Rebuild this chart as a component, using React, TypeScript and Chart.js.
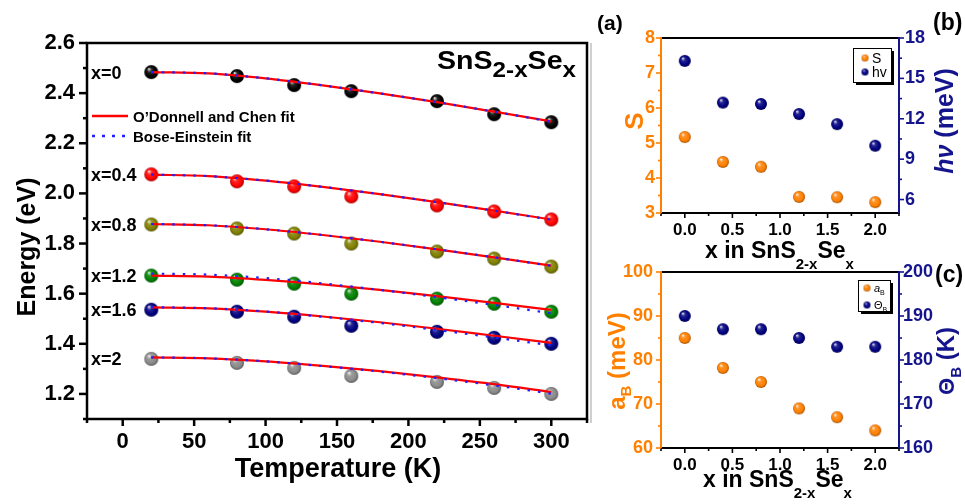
import React, { useEffect, useRef } from 'react';
import { Chart, registerables } from 'chart.js';
Chart.register(...registerables);

const FONT = '"Liberation Sans", Arial, Helvetica, sans-serif';

// ---------- Main panel: band-gap energy vs temperature ----------
const temperatures = [20, 80, 120, 160, 220, 260, 300];
const compositionLabels = ['x=0', 'x=0.4', 'x=0.8', 'x=1.2', 'x=1.6', 'x=2'];
const energyX0 = [2.484, 2.468, 2.432, 2.408, 2.368, 2.316, 2.284];
const energyX04 = [2.076, 2.048, 2.028, 1.988, 1.952, 1.928, 1.896];
const energyX08 = [1.876, 1.86, 1.84, 1.8, 1.768, 1.74, 1.708];
const energyX12 = [1.672, 1.656, 1.64, 1.6, 1.58, 1.56, 1.528];
const energyX16 = [1.536, 1.528, 1.508, 1.472, 1.448, 1.424, 1.4];
const energyX2 = [1.34, 1.324, 1.304, 1.272, 1.248, 1.224, 1.2];

const fitTemperatures = [20, 60, 100, 140, 180, 220, 260, 300];
const odcFitX0 = [2.484, 2.479, 2.459, 2.431, 2.399, 2.364, 2.326, 2.287];
const beFitX0 = [2.484, 2.479, 2.459, 2.431, 2.399, 2.364, 2.326, 2.286];
const odcFitX04 = [2.075, 2.069, 2.051, 2.026, 1.997, 1.965, 1.931, 1.896];
const beFitX04 = [2.075, 2.069, 2.051, 2.026, 1.997, 1.965, 1.931, 1.895];
const odcFitX08 = [1.878, 1.873, 1.857, 1.834, 1.807, 1.777, 1.745, 1.712];
const beFitX08 = [1.878, 1.873, 1.857, 1.834, 1.807, 1.777, 1.745, 1.711];
const odcFitX12 = [1.672, 1.668, 1.655, 1.637, 1.615, 1.59, 1.563, 1.535];
const beFitX12 = [1.68, 1.676, 1.662, 1.641, 1.615, 1.586, 1.555, 1.522];
const odcFitX16 = [1.545, 1.541, 1.528, 1.509, 1.486, 1.46, 1.432, 1.404];
const beFitX16 = [1.546, 1.542, 1.529, 1.508, 1.483, 1.455, 1.425, 1.394];
const odcFitX2 = [1.346, 1.342, 1.33, 1.312, 1.291, 1.266, 1.239, 1.207];
const beFitX2 = [1.346, 1.342, 1.33, 1.311, 1.289, 1.263, 1.234, 1.201];

const temperatureTicks = [0, 50, 100, 150, 200, 250, 300];
const energyTicks = [1.2, 1.4, 1.6, 1.8, 2.0, 2.2, 2.4, 2.6];

// ---------- Panels (b) and (c): parameters vs composition ----------
const compositions = [0, 0.4, 0.8, 1.2, 1.6, 2.0];
const sValues = [5.17, 4.46, 4.32, 3.46, 3.45, 3.31];
const hvValues = [16.3, 13.2, 13.1, 12.35, 11.6, 10.0];
const aBValues = [85, 78.2, 75, 69, 67, 64];
const thetaBValues = [190, 187, 187, 185, 183, 183];

const compositionTicks = [0, 0.5, 1.0, 1.5, 2.0];
const sTicks = [3, 4, 5, 6, 7, 8];
const hvTicks = [6, 9, 12, 15, 18];
const aBTicks = [60, 70, 80, 90, 100];
const thetaBTicks = [160, 170, 180, 190, 200];

const seriesColors = ['#000000', '#ff0000', '#808000', '#008000', '#000080', '#8a8a8a'];
const ORANGE = '#ff8000';
const NAVY = '#14148c';

function hexToRgb(h: string) {
  const n = parseInt(h.slice(1), 16);
  return [(n >> 16) & 255, (n >> 8) & 255, n & 255];
}
function mix(h: string, target: number[], t: number) {
  const c = hexToRgb(h);
  return `rgb(${c.map((v, i) => Math.round(v + (target[i] - v) * t)).join(',')})`;
}
function makeSphere(color: string, d: number) {
  const s = Math.ceil(d) + 2;
  const cv = document.createElement('canvas');
  cv.width = s;
  cv.height = s;
  const ctx = cv.getContext('2d')!;
  const r = d / 2;
  const c = s / 2;
  const g = ctx.createRadialGradient(c - r * 0.35, c - r * 0.45, r * 0.05, c, c, r);
  g.addColorStop(0, mix(color, [255, 255, 255], 0.85));
  g.addColorStop(0.3, mix(color, [255, 255, 255], 0.15));
  g.addColorStop(0.75, color);
  g.addColorStop(1, mix(color, [0, 0, 0], 0.35));
  ctx.fillStyle = g;
  ctx.beginPath();
  ctx.arc(c, c, r, 0, Math.PI * 2);
  ctx.fill();
  return cv;
}

type Seg = { t: string; size: number; dy?: number; style?: string; weight?: string };
function richText(
  ctx: CanvasRenderingContext2D,
  segs: Seg[],
  x: number,
  y: number,
  color: string,
  align: 'left' | 'center',
  rotate = false,
  hScale = 1
) {
  ctx.save();
  ctx.translate(x, y);
  if (rotate) ctx.rotate(-Math.PI / 2);
  ctx.scale(hScale, 1);
  ctx.fillStyle = color;
  ctx.textBaseline = 'alphabetic';
  ctx.textAlign = 'left';
  const font = (s: Seg) => `${s.style ?? 'normal'} ${s.weight ?? 'bold'} ${s.size}px ${FONT}`;
  let total = 0;
  for (const s of segs) {
    ctx.font = font(s);
    total += ctx.measureText(s.t).width;
  }
  let cx = align === 'center' ? -total / 2 : 0;
  for (const s of segs) {
    ctx.font = font(s);
    ctx.fillText(s.t, cx, s.dy ?? 0);
    cx += ctx.measureText(s.t).width;
  }
  ctx.restore();
}

function drawAxisTicks(
  ctx: CanvasRenderingContext2D,
  scale: any,
  majors: number[],
  pos: 'bottom' | 'left' | 'right',
  color: string,
  majorLen: number,
  minorLen: number,
  lw: number
) {
  const step = majors[1] - majors[0];
  const minors: number[] = [];
  const eps = step * 1e-3;
  const before = majors[0] - step / 2;
  if (before >= scale.min - eps) minors.push(before);
  for (let i = 0; i < majors.length - 1; i++) minors.push((majors[i] + majors[i + 1]) / 2);
  const after = majors[majors.length - 1] + step / 2;
  if (after <= scale.max + eps) minors.push(after);
  ctx.save();
  ctx.strokeStyle = color;
  ctx.lineWidth = lw;
  const draw = (v: number, len: number) => {
    const p = scale.getPixelForValue(v);
    ctx.beginPath();
    if (pos === 'bottom') {
      ctx.moveTo(p, scale.top);
      ctx.lineTo(p, scale.top + len);
    } else if (pos === 'left') {
      ctx.moveTo(scale.right, p);
      ctx.lineTo(scale.right - len, p);
    } else {
      ctx.moveTo(scale.left, p);
      ctx.lineTo(scale.left + len, p);
    }
    ctx.stroke();
  };
  majors.forEach((v) => draw(v, majorLen));
  minors.forEach((v) => draw(v, minorLen));
  ctx.restore();
}

function line(ctx: CanvasRenderingContext2D, x1: number, y1: number, x2: number, y2: number, color: string, lw: number, dash: number[] = []) {
  ctx.save();
  ctx.strokeStyle = color;
  ctx.lineWidth = lw;
  ctx.setLineDash(dash);
  ctx.beginPath();
  ctx.moveTo(x1, y1);
  ctx.lineTo(x2, y2);
  ctx.stroke();
  ctx.restore();
}

const setTicks = (values: number[]) => (scale: any) => {
  scale.ticks = values.map((v) => ({ value: v }));
};

function tickFont(size: number) {
  return { family: FONT, size, weight: 'bold' as const };
}
const noGrid = { display: false, drawTicks: false };

function mainConfig(): any {
  const energySeries = [energyX0, energyX04, energyX08, energyX12, energyX16, energyX2];
  const odcFits = [odcFitX0, odcFitX04, odcFitX08, odcFitX12, odcFitX16, odcFitX2];
  const beFits = [beFitX0, beFitX04, beFitX08, beFitX12, beFitX16, beFitX2];
  const datasets: any[] = [];
  energySeries.forEach((vals, i) => {
    datasets.push({
      label: `Bose-Einstein fit ${compositionLabels[i]}`,
      data: fitTemperatures.map((t, j) => ({ x: t, y: beFits[i][j] })),
      showLine: true,
      borderColor: '#1f1fff',
      borderWidth: 2.2,
      borderDash: [2.5, 8],
      pointRadius: 0,
      cubicInterpolationMode: 'monotone',
      order: 0,
    });
    datasets.push({
      label: `O'Donnell and Chen fit ${compositionLabels[i]}`,
      data: fitTemperatures.map((t, j) => ({ x: t, y: odcFits[i][j] })),
      showLine: true,
      borderColor: '#ff0000',
      borderWidth: 2.2,
      pointRadius: 0,
      cubicInterpolationMode: 'monotone',
      order: 1,
    });
    datasets.push({
      label: compositionLabels[i],
      data: temperatures.map((t, j) => ({ x: t, y: vals[j] })),
      showLine: false,
      pointStyle: makeSphere(seriesColors[i], 14),
      pointRadius: 7,
      order: 2,
    });
  });

  const plugin = {
    id: 'mainDecor',
    afterDraw(chart: any) {
      const ctx = chart.ctx as CanvasRenderingContext2D;
      const { left, right, top, bottom } = chart.chartArea;
      const xs = chart.scales.x;
      const ys = chart.scales.y;
      ctx.save();
      ctx.strokeStyle = '#000';
      ctx.lineWidth = 2.5;
      ctx.strokeRect(left, top, right - left, bottom - top);
      ctx.restore();
      drawAxisTicks(ctx, xs, temperatureTicks, 'bottom', '#000', 7, 4, 2.5);
      drawAxisTicks(ctx, ys, energyTicks, 'left', '#000', 8, 4, 2.5);
      compositionLabels.forEach((lab, i) => {
        const y = ys.getPixelForValue(energySeries[i][0]);
        richText(ctx, [{ t: lab, size: 18 }], 91, y + 6.5, '#000', 'left');
      });
      line(ctx, 92, 116, 128, 116, '#ff0000', 2.5);
      richText(ctx, [{ t: 'O\u2019Donnell and Chen fit', size: 15 }], 133, 121.5, '#000', 'left');
      line(ctx, 92, 136, 125, 136, '#1f1fff', 2.5, [3, 7]);
      richText(ctx, [{ t: 'Bose-Einstein fit', size: 15 }], 133, 141.5, '#000', 'left');
      richText(
        ctx,
        [
          { t: 'SnS', size: 26 },
          { t: '2-x', size: 22, dy: 8 },
          { t: 'Se', size: 26 },
          { t: 'x', size: 22, dy: 8 },
        ],
        437,
        69,
        '#000',
        'left',
        false,
        1.1
      );
      richText(ctx, [{ t: 'Energy (eV)', size: 25 }], 35, 247, '#000', 'center', true);
      richText(ctx, [{ t: 'Temperature (K)', size: 27 }], 338, 477, '#000', 'center');
      line(ctx, 591, 43, 591, 423, '#cfcfcf', 2);
    },
  };

  return {
    type: 'scatter',
    data: { datasets },
    plugins: [plugin],
    options: {
      responsive: false,
      animation: false,
      devicePixelRatio: 1,
      layout: { padding: { left: 0, right: 7, top: 43, bottom: 0 } },
      plugins: { legend: { display: false }, tooltip: { enabled: false } },
      scales: {
        x: {
          type: 'linear',
          min: -25,
          max: 325,
          afterBuildTicks: setTicks(temperatureTicks),
          afterFit: (s: any) => {
            s.height = 85;
          },
          grid: noGrid,
          border: { display: false },
          ticks: { font: tickFont(22), color: '#000', padding: 10, maxRotation: 0, autoSkip: false },
        },
        y: {
          type: 'linear',
          min: 1.1,
          max: 2.6,
          afterBuildTicks: setTicks(energyTicks),
          afterFit: (s: any) => {
            s.width = 87;
          },
          grid: noGrid,
          border: { display: false },
          ticks: {
            font: tickFont(22),
            color: '#000',
            padding: 12,
            autoSkip: false,
            callback: (v: any) => Number(v).toFixed(1),
          },
        },
      },
    },
  };
}

function insetConfig(opts: {
  leftVals: number[];
  rightVals: number[];
  leftLabel: string;
  rightLabel: string;
  leftMin: number;
  leftMax: number;
  rightMin: number;
  rightMax: number;
  leftTicks: number[];
  rightTicks: number[];
  padTop: number;
  xHeight: number;
  xPad: number;
  leftPad: number;
  rightPad: number;
  decorate: (ctx: CanvasRenderingContext2D, chart: any) => void;
}): any {
  const orangeBall = makeSphere(ORANGE, 12);
  const navyBall = makeSphere('#000080', 12);
  const plugin = {
    id: 'insetDecor',
    afterDraw(chart: any) {
      const ctx = chart.ctx as CanvasRenderingContext2D;
      const { left, right, top, bottom } = chart.chartArea;
      line(ctx, left, top, right, top, '#000', 2);
      line(ctx, left - 1, bottom, right + 1, bottom, '#000', 2);
      line(ctx, left, top - 1, left, bottom + 1, ORANGE, 2);
      line(ctx, right, top - 1, right, bottom + 1, NAVY, 2);
      drawAxisTicks(ctx, chart.scales.x, compositionTicks, 'bottom', '#000', 5, 3, 1.6);
      drawAxisTicks(ctx, chart.scales.y, opts.leftTicks, 'left', ORANGE, 5, 3, 1.6);
      drawAxisTicks(ctx, chart.scales.y1, opts.rightTicks, 'right', NAVY, 5, 3, 1.6);
      opts.decorate(ctx, chart);
    },
  };
  const intFmt = (v: any) => String(Math.round(Number(v)));
  return {
    type: 'scatter',
    data: {
      datasets: [
        {
          label: opts.leftLabel,
          data: compositions.map((x, i) => ({ x, y: opts.leftVals[i] })),
          yAxisID: 'y',
          pointStyle: orangeBall,
          pointRadius: 6,
        },
        {
          label: opts.rightLabel,
          data: compositions.map((x, i) => ({ x, y: opts.rightVals[i] })),
          yAxisID: 'y1',
          pointStyle: navyBall,
          pointRadius: 6,
        },
      ],
    },
    plugins: [plugin],
    options: {
      responsive: false,
      animation: false,
      devicePixelRatio: 1,
      layout: { padding: { left: 0, right: 0, top: opts.padTop, bottom: 0 } },
      plugins: { legend: { display: false }, tooltip: { enabled: false } },
      scales: {
        x: {
          type: 'linear',
          min: -0.25,
          max: 2.25,
          afterBuildTicks: setTicks(compositionTicks),
          afterFit: (s: any) => {
            s.height = opts.xHeight;
          },
          grid: noGrid,
          border: { display: false },
          ticks: {
            font: tickFont(17),
            color: '#000',
            padding: opts.xPad,
            maxRotation: 0,
            autoSkip: false,
            callback: (v: any) => Number(v).toFixed(1),
          },
        },
        y: {
          type: 'linear',
          position: 'left',
          min: opts.leftMin,
          max: opts.leftMax,
          afterBuildTicks: setTicks(opts.leftTicks),
          afterFit: (s: any) => {
            s.width = 66;
          },
          grid: noGrid,
          border: { display: false },
          ticks: { font: tickFont(18), color: ORANGE, padding: opts.leftPad, autoSkip: false, callback: intFmt },
        },
        y1: {
          type: 'linear',
          position: 'right',
          min: opts.rightMin,
          max: opts.rightMax,
          afterBuildTicks: setTicks(opts.rightTicks),
          afterFit: (s: any) => {
            s.width = 66;
          },
          grid: noGrid,
          border: { display: false },
          ticks: { font: tickFont(18), color: NAVY, padding: opts.rightPad, autoSkip: false, callback: intFmt },
        },
      },
    },
  };
}

function legendBox(ctx: CanvasRenderingContext2D, x: number, y: number, w: number, h: number) {
  ctx.save();
  ctx.fillStyle = '#000';
  ctx.fillRect(x + 3, y + 3, w, h);
  ctx.fillStyle = '#fff';
  ctx.fillRect(x, y, w, h);
  ctx.strokeStyle = '#000';
  ctx.lineWidth = 1;
  ctx.strokeRect(x + 0.5, y + 0.5, w, h);
  ctx.restore();
}

function xTitle(ctx: CanvasRenderingContext2D, x: number, baseline: number) {
  richText(
    ctx,
    [
      { t: 'x in SnS', size: 23 },
      { t: '2-x', size: 15, dy: 11 },
      { t: 'Se', size: 23 },
      { t: 'x', size: 15, dy: 11 },
    ],
    x,
    baseline,
    '#000',
    'left'
  );
}

export default function App() {
  const mainRef = useRef<HTMLCanvasElement>(null);
  const bRef = useRef<HTMLCanvasElement>(null);
  const cRef = useRef<HTMLCanvasElement>(null);

  useEffect(() => {
    const charts: Chart[] = [];
    charts.push(new Chart(mainRef.current!, mainConfig()));

    const smallOrange = makeSphere(ORANGE, 7);
    const smallNavy = makeSphere('#000080', 7);

    charts.push(
      new Chart(
        bRef.current!,
        insetConfig({
          leftVals: sValues,
          rightVals: hvValues,
          leftLabel: 'S',
          rightLabel: 'hv',
          leftMin: 3,
          leftMax: 8,
          rightMin: 5,
          rightMax: 18,
          leftTicks: sTicks,
          rightTicks: hvTicks,
          padTop: 38,
          xHeight: 62,
          xPad: 7,
          leftPad: 6,
          rightPad: 6,
          decorate: (ctx) => {
            xTitle(ctx, 110, 258);
            richText(ctx, [{ t: 'S', size: 26 }], 48, 121, ORANGE, 'center', true);
            richText(
              ctx,
              [
                { t: 'h', size: 25, style: 'italic' },
                { t: '\u03bd', size: 25, style: 'italic' },
                { t: ' (meV)', size: 25 },
              ],
              358,
              121,
              NAVY,
              'center',
              true
            );
            richText(ctx, [{ t: '(a)', size: 21 }], 2, 30, '#000', 'left');
            richText(ctx, [{ t: '(b)', size: 23 }], 338, 30, '#000', 'left');
            legendBox(ctx, 258, 48, 38, 34);
            ctx.drawImage(smallOrange, 270 - smallOrange.width / 2, 58 - smallOrange.height / 2);
            ctx.drawImage(smallNavy, 270 - smallNavy.width / 2, 72 - smallNavy.height / 2);
            richText(ctx, [{ t: 'S', size: 14, weight: 'normal' }], 277, 63, '#000', 'left');
            richText(ctx, [{ t: 'hv', size: 14, weight: 'normal' }], 277, 77, '#000', 'left');
          },
        })
      )
    );

    charts.push(
      new Chart(
        cRef.current!,
        insetConfig({
          leftVals: aBValues,
          rightVals: thetaBValues,
          leftLabel: 'aB',
          rightLabel: 'ΘB',
          leftMin: 60,
          leftMax: 100,
          rightMin: 160,
          rightMax: 200,
          leftTicks: aBTicks,
          rightTicks: thetaBTicks,
          padTop: 22,
          xHeight: 56,
          xPad: 7,
          leftPad: 8,
          rightPad: 4,
          decorate: (ctx) => {
            xTitle(ctx, 108, 237);
            richText(
              ctx,
              [
                { t: 'a', size: 24 },
                { t: 'B', size: 15, dy: 6 },
                { t: ' (meV)', size: 24 },
              ],
              30,
              111,
              ORANGE,
              'center',
              true
            );
            richText(
              ctx,
              [
                { t: '\u0398', size: 22 },
                { t: 'B', size: 15, dy: 7 },
                { t: ' (K)', size: 24 },
              ],
              359,
              111,
              NAVY,
              'center',
              true
            );
            richText(ctx, [{ t: '(c)', size: 23 }], 340, 32, '#000', 'left');
            legendBox(ctx, 263, 30, 32, 31);
            ctx.drawImage(smallOrange, 272 - smallOrange.width / 2, 38 - smallOrange.height / 2);
            ctx.drawImage(smallNavy, 272 - smallNavy.width / 2, 55 - smallNavy.height / 2);
            richText(
              ctx,
              [
                { t: 'a', size: 11, style: 'italic', weight: 'normal' },
                { t: 'B', size: 7, dy: 3, weight: 'normal' },
              ],
              279,
              42,
              '#000',
              'left'
            );
            richText(
              ctx,
              [
                { t: '\u0398', size: 11, weight: 'normal' },
                { t: 'B', size: 7, dy: 3, weight: 'normal' },
              ],
              279,
              59,
              '#000',
              'left'
            );
          },
        })
      )
    );

    return () => charts.forEach((c) => c.destroy());
  }, []);

  return (
    <div style={{ position: 'absolute', left: 0, top: 0, width: 965, height: 504, background: '#fff', overflow: 'hidden' }}>
      <canvas ref={mainRef} width={595} height={504} style={{ position: 'absolute', left: 0, top: 0, width: 595, height: 504 }} />
      <canvas ref={bRef} width={370} height={275} style={{ position: 'absolute', left: 595, top: 0, width: 370, height: 275 }} />
      <canvas ref={cRef} width={370} height={254} style={{ position: 'absolute', left: 595, top: 250, width: 370, height: 254 }} />
    </div>
  );
}
